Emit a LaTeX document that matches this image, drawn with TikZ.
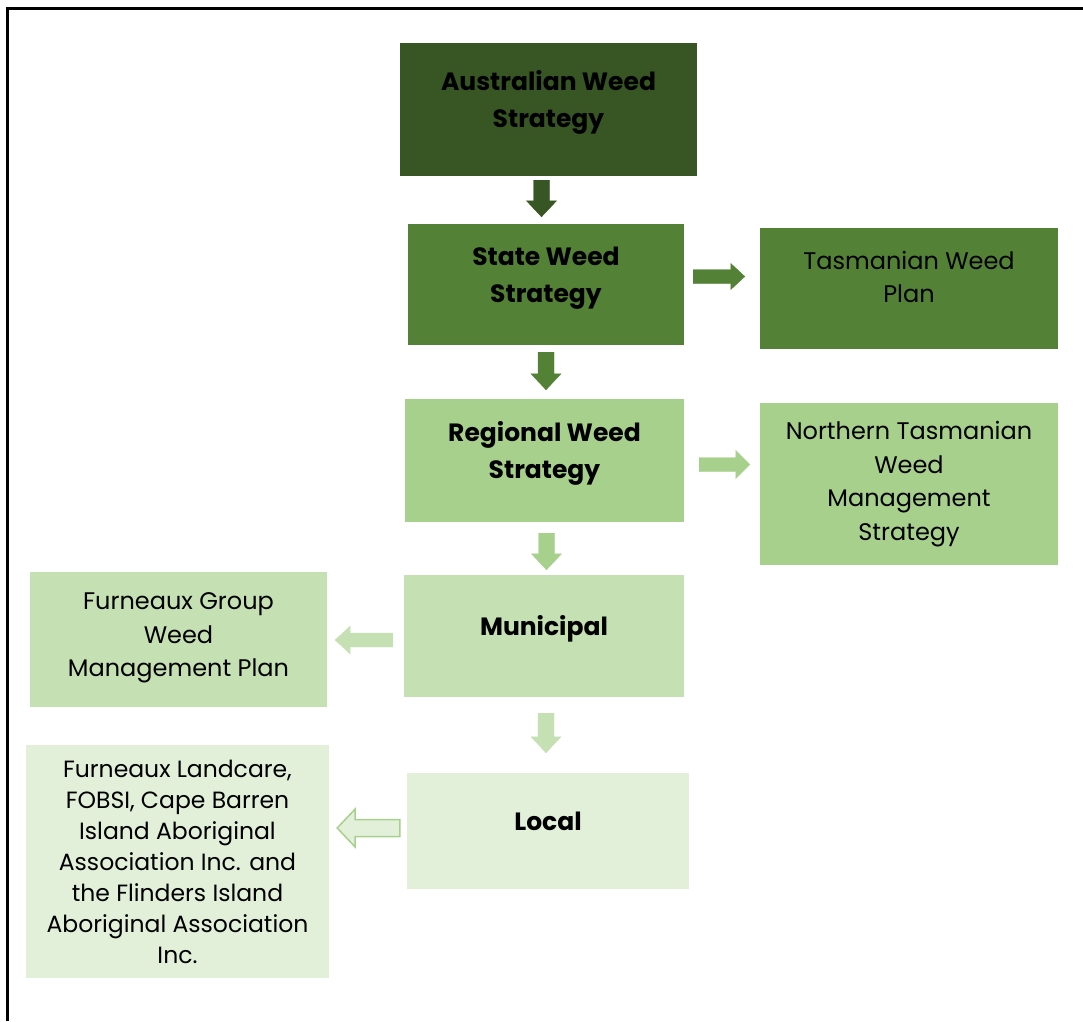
\documentclass[tikz,border=0pt]{standalone}
\usepackage{fontspec}
\setmainfont{Poppins}
\usetikzlibrary{calc}
\usetikzlibrary{positioning}

\definecolor{greenA}{HTML}{375623}
\definecolor{greenB}{HTML}{538135}
\definecolor{greenC}{HTML}{A8D08D}
\definecolor{greenD}{HTML}{C5E0B3}
\definecolor{greenE}{HTML}{E2EFD9}

\tikzset{
 ba shaft/.store in=\bashaft, ba head/.store in=\bahead, ba tip/.store in=\batip,
 ba shaft=8pt, ba head=15pt, ba tip=16pt,
 box/.style={rectangle, inner sep=4pt, align=center, text=black,
  font=\fontsize{24}{33.5}\selectfont},
 title/.style={box, font=\fontsize{25}{37}\selectfont\bfseries},
}

% text set a little above the middle of its box
\newcommand\lift[2][8pt]{\raisebox{#1}[\height][\depth]{\begin{tabular}{@{}c@{}}#2\end{tabular}}}

% block arrow from #2 to #3, style #1
\newcommand\blockarrow[3][]{%
 \begin{scope}[#1]
 \path (#2) coordinate (ba-s) (#3) coordinate (ba-e);
 \path ($(ba-e)!\batip!(ba-s)$) coordinate (ba-h);
 \filldraw ($(ba-s)!\bashaft!90:(ba-e)$) -- ($(ba-h)!\bashaft!-90:(ba-s)$)
  -- ($(ba-h)!\bahead!-90:(ba-s)$) -- (ba-e) -- ($(ba-h)!\bahead!90:(ba-s)$)
  -- ($(ba-h)!\bashaft!90:(ba-s)$) -- ($(ba-s)!\bashaft!-90:(ba-e)$) -- cycle;
 \end{scope}}

\begin{document}
\begin{tikzpicture}[x=1pt, y=-1pt]
\useasboundingbox (0,0) rectangle (1083,1021);
\draw[line width=3pt] (7,1021) -- (7,8) -- (1083,8);

% central column
\node[title, fill=greenA, minimum width=297pt, minimum height=133pt] (aws) at (548.5,109.5) {\lift{Australian Weed\\Strategy}};
\node[title, fill=greenB, minimum width=276pt, minimum height=121pt] (sws) at (546,284.5) {\lift{State Weed\\Strategy}};
\node[title, fill=greenC, minimum width=279pt, minimum height=123pt] (rws) at (544.5,460.5) {\lift{Regional Weed\\Strategy}};
\node[title, fill=greenD, minimum width=280pt, minimum height=122pt] (mun) at (544,636) {\lift{Municipal}};
\node[title, fill=greenE, minimum width=282pt, minimum height=116pt] (loc) at (548,831) {\lift{Local}};

% side boxes
\node[box, fill=greenB, minimum width=298pt, minimum height=121pt] (twp) at (909,288.5) {\lift[9pt]{Tasmanian Weed\\Plan}};
\node[box, fill=greenC, minimum width=298pt, minimum height=162pt] (ntw) at (909,484) {Northern Tasmanian\\Weed\\Management\\Strategy};
\node[box, fill=greenD, minimum width=297pt, minimum height=135pt] (fgw) at (178.5,639.5) {\lift[3pt]{Furneaux Group\\Weed\\Management Plan}};
\node[box, fill=greenE, minimum width=303pt, minimum height=233pt, font=\fontsize{23.5}{31}\selectfont] (flc) at (177.5,861.5) {Furneaux Landcare,\\FOBSI, Cape Barren\\Island Aboriginal\\Association Inc. and\\the Flinders Island\\Aboriginal Association\\Inc.};

% arrows
\blockarrow[fill=greenA, draw=greenA]{$(aws.south)+(-7,4)$}{$(aws.south |- sws.north)+(-7,-7)$}
\blockarrow[fill=greenB, draw=greenB]{$(sws.south)+(0,7)$}{$(sws.south |- rws.north)+(0,-9)$}
\blockarrow[fill=greenB, draw=greenB, ba shaft=7pt, ba head=13pt, ba tip=14pt]{$(sws.east)+(9,-8)$}{$(twp.west |- sws.east)+(-15,-8)$}
\blockarrow[fill=greenC, draw=greenC, ba shaft=7pt, ba head=14pt, ba tip=14pt]{$(rws.east)+(15,4)$}{$(ntw.west |- rws.east)+(-10,4)$}
\blockarrow[fill=greenC, draw=greenC]{$(rws.south)+(2,11)$}{$(rws.south |- mun.north)+(2,-5)$}
\blockarrow[fill=greenD, draw=greenD, ba shaft=7pt, ba head=14pt, ba tip=15pt]{$(mun.west)+(-11,4)$}{$(fgw.east |- mun.west)+(8,4)$}
\blockarrow[fill=greenD, draw=greenD]{$(mun.south)+(2,16)$}{$(mun.south |- loc.north)+(2,-20)$}
\blockarrow[fill=greenE, draw=greenC, line width=1.5pt, ba shaft=8.5pt, ba head=19pt, ba tip=18pt]{$(loc.west)+(-7,-3)$}{$(flc.east |- loc.west)+(8,-3)$}
\end{tikzpicture}
\end{document}
